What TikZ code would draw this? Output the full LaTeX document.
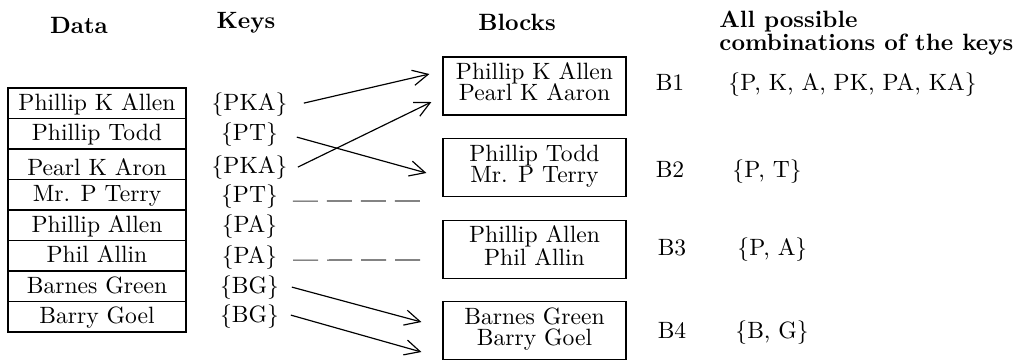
\documentclass[tikz,border=0pt]{standalone}
\usetikzlibrary{arrows.meta}
% one drawing unit (1 px of the layout grid)
\newlength\pxu
\setlength\pxu{0.42373pt}
\begin{document}
\begin{tikzpicture}[x=\pxu, y=-\pxu,
  every node/.style={inner sep=0pt, font=\fontsize{10}{12}\selectfont},
  header/.style={font=\fontsize{10}{12}\selectfont\bfseries},
  cell/.style={draw, line width=0.5pt, minimum width=178\pxu,
    text height=9.3pt, text depth=3.6pt, anchor=base},
  keytext/.style={anchor=base},
  block/.style={draw, line width=0.5pt, minimum width=183\pxu,
    minimum height=58\pxu, align=center, text depth=3.5pt,
    font={\fontsize{10}{8.9}\selectfont\lineskiplimit=-\maxdimen}},
  blocklabel/.style={anchor=base},
  combo/.style={anchor=base west},
  link/.style={line width=0.5pt, -{Straight Barb[length=6.5pt, width=6.5pt]}},
  gap/.style={line width=0.5pt, black!75, dash pattern=on 10.6pt off 3.8pt}
]
\useasboundingbox (0,0) rectangle (1019,360);

% column headers
\node[header, anchor=base] (hdata) at (79,33) {Data};
\node[header, anchor=base] (hkeys) at (246,28) {Keys};
\node[header, anchor=base] (hblocks) at (517,30) {Blocks};
\node[header, anchor=north west, align=left,
  font={\fontsize{10}{9.75}\selectfont\bfseries}] (hcombo) at (719,10.6)
  {All possible\\combinations of the keys};

% data records
\node[cell] (r1) at (97,110)   {Phillip K Allen};
\node[cell] (r2) at (97,140.5) {Phillip Todd};
\node[cell, text height=11pt, text depth=1.9pt] (r3) at (97,175) {Pearl K Aron};
\node[cell] (r4) at (97,201.5) {Mr. P Terry};
\node[cell] (r5) at (97,232)   {Phillip Allen};
\node[cell] (r6) at (97,262.5) {Phil Allin};
\node[cell] (r7) at (97,293)   {Barnes Green};
\node[cell] (r8) at (97,323.5) {Barry Goel};

% blocking keys
\node[keytext] (k1) at (249.5,110) {\{PKA\}};
\node[keytext] (k2) at (249.5,140) {\{PT\}};
\node[keytext] (k3) at (249.5,173) {\{PKA\}};
\node[keytext] (k4) at (249.5,202) {\{PT\}};
\node[keytext] (k5) at (249.5,232) {\{PA\}};
\node[keytext] (k6) at (249.5,263) {\{PA\}};
\node[keytext] (k7) at (249.5,293) {\{BG\}};
\node[keytext] (k8) at (249.5,322) {\{BG\}};

% blocks
\node[block] (b1) at (534.5,86)    {Phillip K Allen\\Pearl K Aaron};
\node[block] (b2) at (534.5,167.5) {Phillip Todd\\Mr. P Terry};
\node[block, font={\fontsize{10}{9.75}\selectfont\lineskiplimit=-\maxdimen}]
  (b3) at (534.5,249.5) {Phillip Allen\\Phil Allin};
\node[block] (b4) at (534.5,330.5) {Barnes Green\\Barry Goel};

% block names and key combinations
\node[blocklabel] (n1) at (670,90)  {B1};
\node[blocklabel] (n2) at (670,177) {B2};
\node[blocklabel] (n3) at (672,255) {B3};
\node[blocklabel] (n4) at (672,338) {B4};
\node[combo] (c1) at (728,90)  {\{P, K, A, PK, PA, KA\}};
\node[combo] (c2) at (732,177) {\{P, T\}};
\node[combo] (c3) at (737,255) {\{P, A\}};
\node[combo] (c4) at (735,338) {\{B, G\}};

% key -> block assignments
\draw[link] ([shift={(16,-1)}]k1.east)   -- ([shift={(-13,-12)}]b1.west);
\draw[link] ([shift={(10,0)}]k3.east)    -- ([shift={(-11,16)}]b1.west);
\draw[link] ([shift={(18.5,3)}]k2.east)  -- ([shift={(-16,5.5)}]b2.west);
\draw[link] ([shift={(12.5,0)}]k7.east)  -- ([shift={(-21,-8.5)}]b4.west);
\draw[link] ([shift={(11.5,-1)}]k8.east) -- ([shift={(-21,21.5)}]b4.west);

% unfinished assignments
\coordinate (d1) at (420,201);
\coordinate (d2) at (422,260);
\draw[gap] ([shift={(14.5,5)}]k4.east) -- (d1);
\draw[gap] ([shift={(15.5,3)}]k6.east) -- (d2);
\end{tikzpicture}
\end{document}
